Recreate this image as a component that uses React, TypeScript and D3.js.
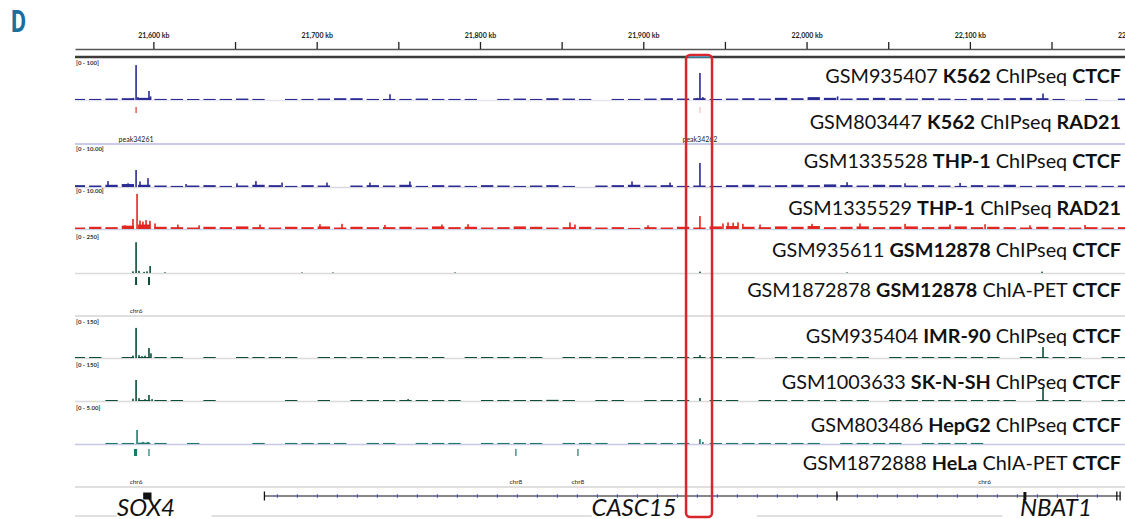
import React, { useEffect, useRef } from "react";
import * as d3 from "d3";

// genomic window (kb) shown by the browser
const viewKb = [21552, 22195];
const tickKb = [21600, 21650, 21700, 21750, 21800, 21850, 21900, 21950, 22000, 22050, 22100, 22150, 22200];
const labeledTickKb = [21600, 21700, 21800, 21900, 22000, 22100, 22200];
const roiKb = [21926.2, 21942.1];

// coverage is binned in 10 kb bins starting at 21,550 kb
const binStartKb = 21550;
const binKb = 10;

// track titles
const trackIds = ["GSM935407", "GSM803447", "GSM1335528", "GSM1335529", "GSM935611", "GSM1872878", "GSM935404", "GSM1003633", "GSM803486", "GSM1872888"];
const trackCells = ["K562", "K562", "THP-1", "THP-1", "GSM12878", "GSM12878", "IMR-90", "SK-N-SH", "HepG2", "HeLa"];
const trackAssays = ["ChIPseq", "ChIPseq", "ChIPseq", "ChIPseq", "ChIPseq", "ChIA-PET", "ChIPseq", "ChIPseq", "ChIPseq", "ChIA-PET"];
const trackFactors = ["CTCF", "RAD21", "CTCF", "RAD21", "CTCF", "CTCF", "CTCF", "CTCF", "CTCF", "CTCF"];

// data ranges
const k562CtcfMax = 100;
const thp1CtcfMax = 10;
const thp1Rad21Max = 10;
const gm12878CtcfMax = 250;
const imr90CtcfMax = 150;
const sknshCtcfMax = 150;
const hepg2CtcfMax = 5;

// low background coverage per bin
const k562CtcfNoise = [
  3, 3, 4, 5, 6, 3, 3, 2, 3, 3, 4, 3, 0,
  3, 3, 4, 5, 5, 3, 3, 3, 4, 3, 3, 3, 0,
  3, 4, 3, 5, 4, 3, 0, 3, 3, 4, 5, 4, 5,
  3, 4, 5, 4, 6, 5, 8, 6, 4, 5, 6, 5, 4,
  5, 4, 3, 5, 4, 5, 6, 5, 3, 0, 3, 0, 4,
];
const thp1CtcfNoise = [
  0.5, 0.4, 0.6, 0.8, 0.6, 0.4, 0.3, 0.4, 0.5, 0.3, 0.4, 0.6, 0.5,
  0.3, 0.5, 0.4, 0, 0.4, 0.5, 0.4, 0.6, 0.3, 0.5, 0.4, 0.3, 0.5,
  0.4, 0.3, 0.4, 0.5, 0.3, 0, 0.4, 0.5, 0.6, 0.4, 0.5, 0.3, 0.4,
  0.3, 0.5, 0.6, 0.4, 0.5, 0.6, 0.5, 0.7, 0.5, 0.4, 0.6, 0.5, 0.4,
  0.5, 0.4, 0.3, 0.5, 0.4, 0.6, 0.3, 0.4, 0.5, 0.3, 0.4, 0.3, 0.4,
];
const thp1Rad21Noise = [
  0.4, 0.6, 0.5, 0.9, 1.2, 0.6, 0.5, 0.4, 0.6, 0.5, 0.7, 0.5, 0.4,
  0.6, 0.5, 0.7, 0.4, 0.6, 0.5, 0.5, 0.6, 0.4, 0.7, 0.5, 0.6, 0.4,
  0.5, 0.7, 0.6, 0.4, 0.5, 0.6, 0.4, 0.5, 0.3, 0.5, 0.4, 0.6, 0.4,
  0.7, 0.8, 0.6, 0.5, 0.7, 0.6, 0.8, 0.5, 0.6, 0.7, 0.5, 0.6, 0.7,
  0.5, 0.6, 0.7, 0.5, 0.6, 0.5, 0.4, 0.6, 0.5, 0.4, 0.5, 0.4, 0.5,
];
const gm12878CtcfNoise = [];
const imr90CtcfNoise = [
  3, 3, 0, 3, 4, 3, 3, 0, 3, 0, 3, 3, 3,
  3, 0, 3, 3, 3, 3, 4, 3, 3, 3, 0, 3, 3,
  3, 3, 3, 0, 3, 3, 3, 3, 3, 3, 3, 3, 4,
  3, 3, 3, 0, 3, 3, 3, 3, 3, 3, 0, 3, 3,
  3, 3, 3, 3, 3, 0, 3, 3, 3, 3, 0, 3, 3,
];
const sknshCtcfNoise = [
  0, 0, 3, 0, 4, 3, 3, 0, 3, 0, 0, 0, 0,
  3, 0, 3, 0, 3, 3, 3, 3, 4, 3, 3, 0, 3,
  4, 3, 3, 5, 3, 0, 3, 3, 0, 3, 3, 4, 0,
  3, 3, 0, 3, 3, 3, 3, 4, 3, 3, 0, 3, 3,
  3, 3, 4, 3, 3, 3, 0, 3, 3, 3, 0, 3, 3,
];
const hepg2CtcfNoise = [
  0, 0, 0.15, 0.15, 0.2, 0.15, 0, 0.15, 0, 0, 0, 0.15, 0,
  0.15, 0.15, 0.15, 0.15, 0, 0.15, 0.15, 0, 0.15, 0.15, 0.15, 0, 0.15,
  0.15, 0.15, 0.15, 0, 0.15, 0.15, 0.15, 0, 0.15, 0.15, 0.15, 0.15, 0,
  0.15, 0.15, 0.15, 0.15, 0.15, 0.15, 0.15, 0, 0.15, 0.15, 0.15, 0.15, 0,
  0.15, 0.15, 0.15, 0.15, 0, 0, 0, 0, 0, 0, 0, 0, 0,
];

// sharp peaks [kb, value]
const k562CtcfPeaks = [
  [21587.8, 6], [21589.4, 97], [21590.5, 8], [21597.3, 25], [21598.3, 10],
  [21744.9, 16], [21933, 5], [21934.7, 75], [21936.5, 8], [22019, 10], [22144.8, 18],
];
const thp1CtcfPeaks = [
  [21572.2, 1.6], [21584.5, 1.0], [21589.4, 4.6], [21591.8, 1.5], [21596.7, 2.4],
  [21620, 0.8], [21651.2, 1.0], [21662.8, 1.6], [21678.8, 1.2], [21706.3, 1.2],
  [21732.6, 1.2], [21757.1, 1.5], [21893.1, 1.5], [21916.4, 1.2], [21934.7, 6.5],
  [22024.8, 1.3], [22060.3, 1.0], [22094, 1.1],
];
const thp1Rad21Peaks = [
  [21582.6, 1.0], [21587.5, 2.7], [21590, 9.5], [21591.8, 2.3], [21593.6, 2.0],
  [21595.5, 2.4], [21597.9, 2.2], [21601, 1.5], [21615, 1.2], [21628, 1.0],
  [21665.3, 1.2], [21702, 1.3], [21715.5, 1.4], [21741.8, 1.1], [21776.7, 1.2],
  [21792.7, 1.3], [21855.1, 1.8], [21858.2, 1.2], [21902.9, 1.0], [21934.7, 3.5],
  [21948.8, 1.5], [21951.9, 1.8], [21955, 1.7], [21958, 1.8], [21961, 1.4],
  [21971.5, 1.2], [22003.3, 1.4], [22032.7, 1.5], [22060.3, 1.4], [22087.8, 1.2],
  [22109.3, 1.3], [22136.8, 1.0], [22170.5, 1.1],
];
const gm12878CtcfPeaks = [
  [21587.5, 12], [21589.4, 220], [21591.2, 15], [21594.3, 8], [21596.1, 12],
  [21598, 50], [21607.1, 5], [21691, 4], [21710, 4], [21784.7, 4],
  [21926.2, 4], [21934.7, 10], [22024.8, 4], [22144.2, 10],
];
const imr90CtcfPeaks = [
  [21587.5, 10], [21589.4, 129], [21591.2, 12], [21593, 8], [21594.9, 10],
  [21597.3, 43], [21598.5, 20], [21934.7, 12], [22144.8, 47],
];
const sknshCtcfPeaks = [
  [21587.5, 10], [21589.4, 90], [21591.2, 12], [21594.9, 8], [21597.3, 26],
  [21599.2, 8], [21756, 8], [21934.7, 13], [22144.8, 60],
];
const hepg2CtcfPeaks = [
  [21590, 2.0], [21593.6, 0.3], [21596.7, 0.3], [21934.7, 0.7], [21936.5, 0.3],
];

// feature (bed) tracks
const k562CtcfCalls = [[21589.4, 1000], [21934.7, 300]];
const k562Rad21Peaks = [["peak34261", 21589.4], ["peak34262", 21934.7]];
const gm12878CtcfCalls = [21589.4, 21597.3];
const hepg2CtcfCalls = [[21588.5, 21590.4], [21597.3, 21597.3], [21822, 21822], [21860, 21860]];
const gm12878PetAnchors = [["chr6", 21589.4]];
const helaPetAnchors = [["chr6", 21589.4], ["chr8", 21822], ["chr8", 21860], ["chr6", 22109]];

// genes
const geneNames = ["SOX4", "CASC15", "NBAT1"];
const geneLabelKb = [21595.5, 21894.3, 22152.7];
const sox4Exon = [21593.75, 21598.85];
const casc15Span = [21668, 22192];
const casc15Exons = [21668, 22018.6, 22190, 22192];
const nbat1Exon = [22132.8, 22134.6];
const geneRowLineKb = [[21552, 21577.5], [21635.5, 21868.5], [21969.5, 22120]];

const signalData = {
  k562Ctcf: { max: k562CtcfMax, noise: k562CtcfNoise, peaks: k562CtcfPeaks },
  thp1Ctcf: { max: thp1CtcfMax, noise: thp1CtcfNoise, peaks: thp1CtcfPeaks },
  thp1Rad21: { max: thp1Rad21Max, noise: thp1Rad21Noise, peaks: thp1Rad21Peaks },
  gm12878Ctcf: { max: gm12878CtcfMax, noise: gm12878CtcfNoise, peaks: gm12878CtcfPeaks },
  imr90Ctcf: { max: imr90CtcfMax, noise: imr90CtcfNoise, peaks: imr90CtcfPeaks },
  sknshCtcf: { max: sknshCtcfMax, noise: sknshCtcfNoise, peaks: sknshCtcfPeaks },
  hepg2Ctcf: { max: hepg2CtcfMax, noise: hepg2CtcfNoise, peaks: hepg2CtcfPeaks },
};

// layout of the coverage tracks
const signalLayout = [
  { name: "k562Ctcf", top: 64, base: 100, color: "#2b2b94", rule: "#e6e6f2" },
  { name: "thp1Ctcf", top: 150, base: 187, color: "#2b2b94", rule: "#d8d8e2" },
  { name: "thp1Rad21", top: 192, base: 229, color: "#e3261f", rule: "#c6d6e8" },
  { name: "gm12878Ctcf", top: 238, base: 273, color: "#0c4d3c", rule: "#dadada" },
  { name: "imr90Ctcf", top: 323, base: 358, color: "#0c4d3c", rule: "#dadada" },
  { name: "sknshCtcf", top: 366, base: 401, color: "#0c4d3c", rule: "#dadada" },
  { name: "hepg2Ctcf", top: 409, base: 444, color: "#1b7a6b", rule: "#c8c8e6" },
];
const titleBaselines = [83, 129, 168, 215, 257, 297, 343, 389, 432, 470];

const W = 1125;
const H = 519;
const left = 75;

const fmtRange = (m) => (m >= 100 ? `[0 - ${m}]` : `[0 - ${m.toFixed(2)}]`);

export default function App() {
  const ref = useRef(null);

  useEffect(() => {
    document.body.style.margin = "0";
    const svg = d3.select(ref.current);
    svg.selectAll("*").remove();

    const x = d3.scaleLinear().domain(viewKb).range([left, W]);

    svg.append("defs").append("clipPath").attr("id", "view")
      .append("rect").attr("x", left).attr("y", 0).attr("width", W - left).attr("height", H);

    // panel letter
    svg.append("text")
      .attr("x", 11).attr("y", 32)
      .attr("textLength", 15).attr("lengthAdjust", "spacingAndGlyphs")
      .style("font-family", "Roboto, sans-serif").style("font-weight", 700)
      .style("font-size", "31px").style("fill", "#1b6e9e")
      .text("D");

    // ruler
    const axis = d3.axisTop(x)
      .tickValues(tickKb)
      .tickSize(7)
      .tickSizeOuter(0)
      .tickPadding(4)
      .tickFormat(d => (labeledTickKb.includes(d) ? d3.format(",")(d) + " kb" : ""));
    const ax = svg.append("g").attr("transform", "translate(0,49)").call(axis);
    ax.select(".domain").attr("stroke", "#555").attr("stroke-width", 1.3);
    ax.selectAll(".tick line").attr("stroke", "#222").attr("stroke-width", 1.3);
    ax.selectAll(".tick text")
      .style("font-family", "Lato, sans-serif").style("font-weight", 700)
      .style("font-size", "7px").attr("fill", "#222");

    svg.append("line")
      .attr("x1", left).attr("x2", W).attr("y1", 57).attr("y2", 57)
      .attr("stroke", "#3c3c3c").attr("stroke-width", 2.5);
    svg.append("line")
      .attr("x1", x(roiKb[0]) + 2).attr("x2", x(roiKb[1]) - 2).attr("y1", 56.5).attr("y2", 56.5)
      .attr("stroke", "#3ab4e2").attr("stroke-width", 2);

    const plot = svg.append("g").attr("clip-path", "url(#view)");

    // coverage tracks
    signalLayout.forEach(t => {
      const d = signalData[t.name];
      const y = d3.scaleLinear().domain([0, d.max]).range([t.base, t.top]);
      const g = plot.append("g");

      g.append("line")
        .attr("x1", left).attr("x2", W).attr("y1", t.base + 0.5).attr("y2", t.base + 0.5)
        .attr("stroke", t.rule).attr("stroke-width", 1.5);

      svg.append("text")
        .attr("x", left + 1).attr("y", t.top + 1)
        .style("font-family", "Lato, sans-serif").style("font-weight", 700)
        .style("font-size", "6px").attr("fill", "#333")
        .text(fmtRange(d.max));

      const bins = d.noise.map((v, i) => ({ i, v })).filter(b => b.v > 0);
      g.selectAll(".noise").data(bins).enter().append("rect")
        .attr("x", b => x(binStartKb + b.i * binKb) + 1)
        .attr("width", b => x(binStartKb + (b.i + 1) * binKb) - x(binStartKb + b.i * binKb) - 4)
        .attr("y", b => Math.min(y(b.v), t.base - 1))
        .attr("height", b => Math.max(1, t.base - y(b.v)))
        .attr("fill", t.color);

      g.selectAll(".peak").data(d.peaks).enter().append("rect")
        .attr("x", p => x(p[0]) - 0.8)
        .attr("width", 1.6)
        .attr("y", p => y(p[1]))
        .attr("height", p => t.base - y(p[1]))
        .attr("fill", t.color);
    });

    // K562 CTCF calls
    plot.selectAll(".call1").data(k562CtcfCalls).enter().append("line")
      .attr("x1", c => x(c[0])).attr("x2", c => x(c[0]))
      .attr("y1", 107).attr("y2", 113)
      .attr("stroke", "#e0302c").attr("stroke-width", 1.2)
      .attr("opacity", c => c[1] / 1000);

    // K562 RAD21 peaks track
    plot.append("line")
      .attr("x1", left).attr("x2", W).attr("y1", 144).attr("y2", 144)
      .attr("stroke", "#b9b9e6").attr("stroke-width", 1.5);
    plot.selectAll(".pk").data(k562Rad21Peaks).enter().append("text")
      .attr("x", p => x(p[1])).attr("y", 141.5)
      .attr("text-anchor", "middle")
      .style("font-family", "Lato, sans-serif").style("font-size", "7px").attr("fill", "#222")
      .text(p => p[0]);

    // GM12878 CTCF calls
    plot.selectAll(".call5").data(gm12878CtcfCalls).enter().append("line")
      .attr("x1", k => x(k)).attr("x2", k => x(k))
      .attr("y1", 277).attr("y2", 285)
      .attr("stroke", "#0c4d3c").attr("stroke-width", 2);

    // ChIA-PET tracks
    const petRow = (anchors, yText, yLine) => {
      plot.append("line")
        .attr("x1", left).attr("x2", W).attr("y1", yLine).attr("y2", yLine)
        .attr("stroke", "#d4d4d4").attr("stroke-width", 1.5);
      plot.selectAll(null).data(anchors).enter().append("text")
        .attr("x", a => x(a[1])).attr("y", yText)
        .attr("text-anchor", "middle")
        .style("font-family", "Lato, sans-serif").style("font-size", "6.5px").attr("fill", "#222")
        .text(a => a[0]);
    };
    petRow(gm12878PetAnchors, 313, 316);
    petRow(helaPetAnchors, 484, 487);

    // HepG2 CTCF calls
    plot.selectAll(".call9").data(hepg2CtcfCalls).enter().append("rect")
      .attr("x", c => x(c[0]) - 0.6)
      .attr("width", c => Math.max(1.2, x(c[1]) - x(c[0])))
      .attr("y", 449).attr("height", 7)
      .attr("fill", "#1b7a6b");

    // gene track
    const gy = 496;
    plot.append("line")
      .attr("x1", x(casc15Span[0])).attr("x2", x(casc15Span[1])).attr("y1", gy).attr("y2", gy)
      .attr("stroke", "#111").attr("stroke-width", 1.2);
    const arrows = d3.range(x(casc15Span[0]) + 13, x(casc15Span[1]) - 4, 20);
    plot.selectAll(".arrow").data(arrows).enter().append("line")
      .attr("x1", a => a).attr("x2", a => a).attr("y1", gy - 1.8).attr("y2", gy + 1.8)
      .attr("stroke", "#4646d8").attr("stroke-width", 1.1);
    plot.selectAll(".exon").data(casc15Exons).enter().append("line")
      .attr("x1", k => x(k)).attr("x2", k => x(k)).attr("y1", gy - 4.5).attr("y2", gy + 4.5)
      .attr("stroke", "#111").attr("stroke-width", 1.3);
    plot.append("rect")
      .attr("x", x(sox4Exon[0])).attr("width", x(sox4Exon[1]) - x(sox4Exon[0]))
      .attr("y", gy - 3.5).attr("height", 7).attr("fill", "#111");
    plot.append("rect")
      .attr("x", x(nbat1Exon[0])).attr("width", x(nbat1Exon[1]) - x(nbat1Exon[0]))
      .attr("y", gy - 4).attr("height", 8).attr("fill", "#111");

    plot.selectAll(".row").data(geneRowLineKb).enter().append("line")
      .attr("x1", s => x(s[0])).attr("x2", s => x(s[1])).attr("y1", 516).attr("y2", 516)
      .attr("stroke", "#c4c4c4").attr("stroke-width", 1.2);
    plot.selectAll(".gname").data(geneNames).enter().append("text")
      .attr("x", (n, i) => x(geneLabelKb[i])).attr("y", 516)
      .attr("text-anchor", "middle")
      .style("font-family", "Lato, sans-serif").style("font-style", "italic")
      .style("font-size", "24px").attr("fill", "#111")
      .text(n => n);

    // ROI box
    svg.append("rect")
      .attr("x", x(roiKb[0])).attr("y", 55)
      .attr("width", x(roiKb[1]) - x(roiKb[0])).attr("height", 462)
      .attr("rx", 4).attr("fill", "none")
      .attr("stroke", "#d9262c").attr("stroke-width", 2.5);

    // track titles
    trackIds.forEach((id, i) => {
      const t = svg.append("text")
        .attr("x", 1121).attr("y", titleBaselines[i])
        .attr("text-anchor", "end")
        .style("font-family", "Lato, sans-serif").style("font-size", "19.8px").attr("fill", "#111");
      t.append("tspan").text(id + " ");
      t.append("tspan").style("font-weight", 700).text(trackCells[i]);
      t.append("tspan").text(" " + trackAssays[i] + " ");
      t.append("tspan").style("font-weight", 700).text(trackFactors[i]);
    });
  }, []);

  return <svg ref={ref} width={W} height={H} style={{ display: "block", background: "#fff" }} />;
}
